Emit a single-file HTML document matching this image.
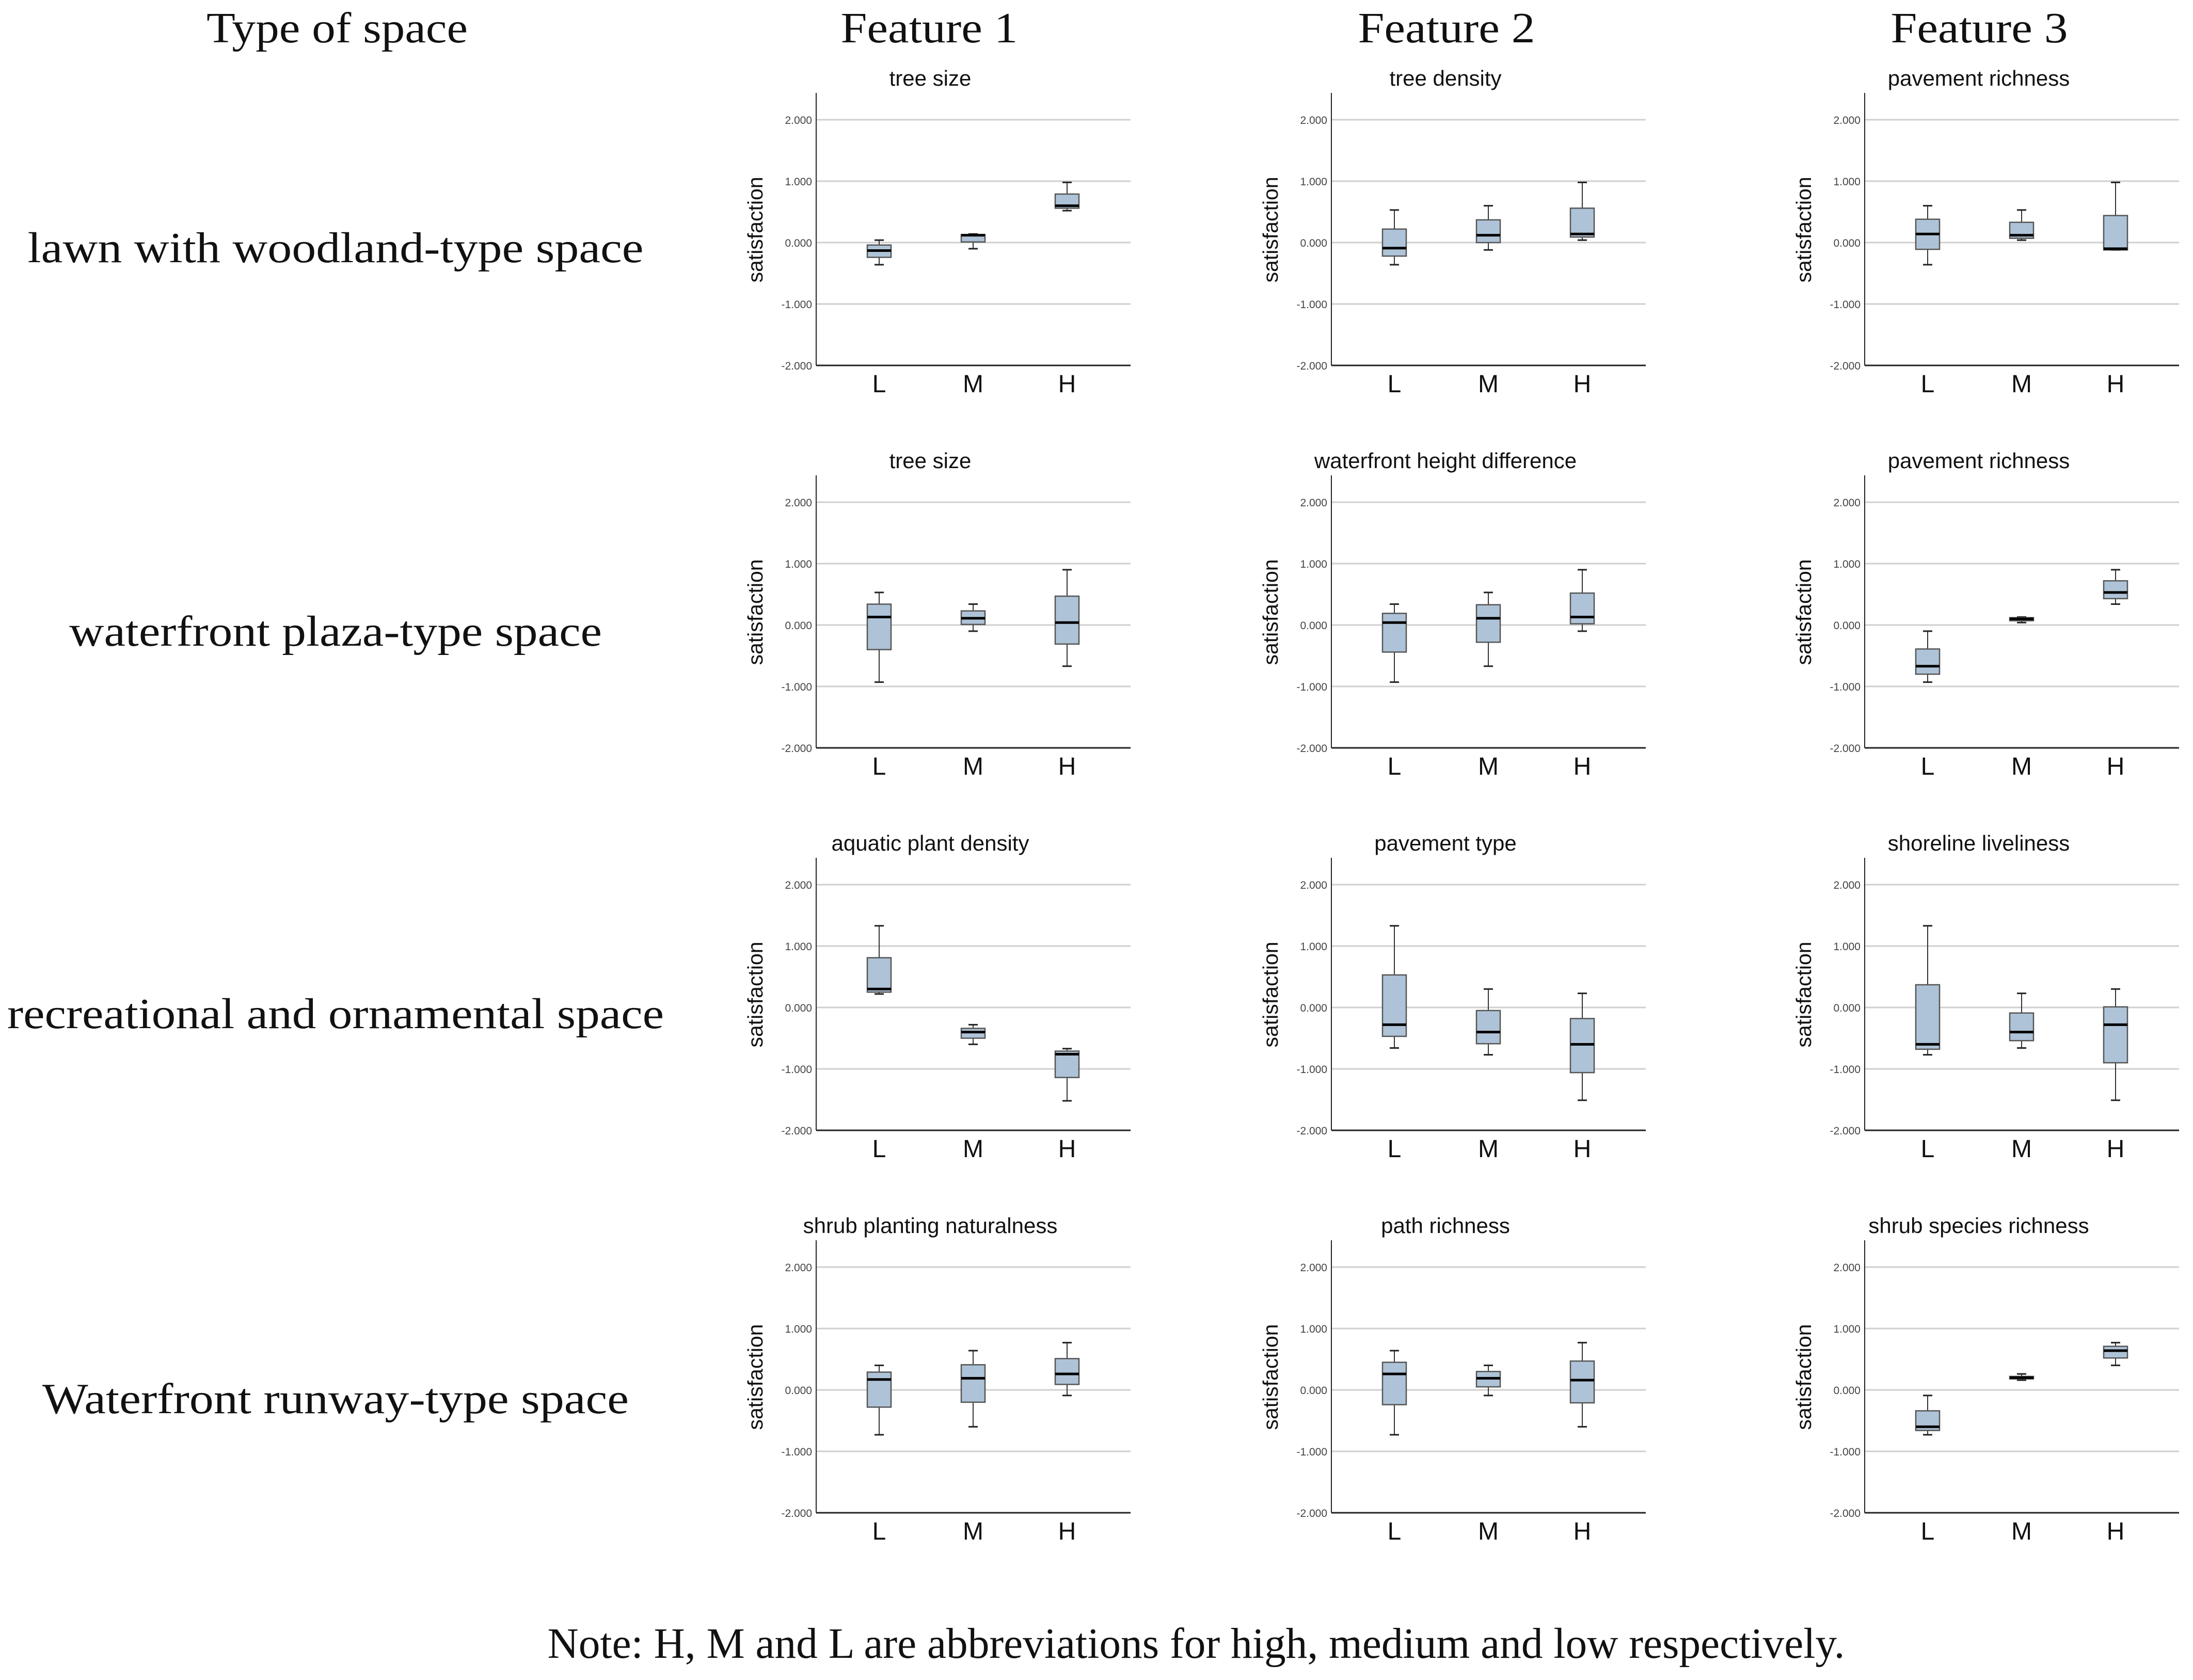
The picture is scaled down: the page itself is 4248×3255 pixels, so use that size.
<!DOCTYPE html>
<html><head><meta charset="utf-8"><style>
html,body{margin:0;padding:0;background:#fff;}
svg{display:block;}
</style></head><body>
<svg id="fig" width="4248" height="3255" viewBox="0 0 4248 3255" xmlns="http://www.w3.org/2000/svg">
<rect x="0" y="0" width="4248" height="3255" fill="#fff"/>
<g font-family="Liberation Serif, serif" font-size="84" fill="#111" text-anchor="middle">
<text x="653" y="82" textLength="506" lengthAdjust="spacingAndGlyphs">Type of space</text>
<text x="1800" y="82" textLength="343" lengthAdjust="spacingAndGlyphs">Feature 1</text>
<text x="2802" y="82" textLength="343" lengthAdjust="spacingAndGlyphs">Feature 2</text>
<text x="3834" y="82" textLength="343" lengthAdjust="spacingAndGlyphs">Feature 3</text>
<text x="650" y="508" textLength="1193" lengthAdjust="spacingAndGlyphs">lawn with woodland-type space</text>
<text x="650" y="1251" textLength="1032" lengthAdjust="spacingAndGlyphs">waterfront plaza-type space</text>
<text x="650" y="1992" textLength="1272" lengthAdjust="spacingAndGlyphs">recreational and ornamental space</text>
<text x="650" y="2738" textLength="1136" lengthAdjust="spacingAndGlyphs">Waterfront runway-type space</text>
<text x="2317" y="3212" textLength="2513" lengthAdjust="spacingAndGlyphs">Note: H, M and L are abbreviations for high, medium and low respectively.</text>
</g>
<g id="charts"></g>
</svg>
<script>
const panelTitles = ["tree size","tree density","pavement richness","tree size","waterfront height difference","pavement richness","aquatic plant density","pavement type","shoreline liveliness","shrub planting naturalness","path richness","shrub species richness"];
const categories = ["L","M","H"];
const yTicks = [2,1,0,-1,-2];
const yTickLabels = ["2.000","1.000","0.000","-1.000","-2.000"];
const whiskerHigh = [[0.04,0.14,0.98],[0.53,0.60,0.98],[0.60,0.53,0.98],[0.53,0.34,0.90],[0.34,0.53,0.90],[-0.10,0.13,0.90],[1.33,-0.28,-0.67],[1.33,0.30,0.23],[1.33,0.23,0.30],[0.40,0.64,0.77],[0.64,0.40,0.77],[-0.09,0.26,0.77]];
const q3 = [[-0.04,0.13,0.79],[0.22,0.37,0.56],[0.38,0.33,0.44],[0.34,0.23,0.47],[0.19,0.33,0.52],[-0.39,0.12,0.72],[0.81,-0.34,-0.71],[0.53,-0.05,-0.18],[0.37,-0.09,0.01],[0.29,0.41,0.51],[0.45,0.30,0.47],[-0.34,0.22,0.71]];
const median = [[-0.13,0.12,0.60],[-0.09,0.12,0.14],[0.14,0.12,-0.10],[0.13,0.11,0.04],[0.04,0.11,0.13],[-0.67,0.10,0.53],[0.30,-0.40,-0.76],[-0.28,-0.40,-0.60],[-0.60,-0.40,-0.28],[0.17,0.19,0.26],[0.26,0.19,0.16],[-0.60,0.20,0.64]];
const q1 = [[-0.24,0.01,0.56],[-0.22,0.0,0.09],[-0.11,0.07,-0.12],[-0.40,0.01,-0.31],[-0.44,-0.28,0.02],[-0.80,0.07,0.43],[0.25,-0.50,-1.14],[-0.47,-0.59,-1.06],[-0.68,-0.54,-0.90],[-0.28,-0.20,0.09],[-0.24,0.05,-0.21],[-0.66,0.18,0.52]];
const whiskerLow = [[-0.36,-0.10,0.52],[-0.36,-0.12,0.04],[-0.36,0.04,-0.12],[-0.93,-0.10,-0.67],[-0.93,-0.67,-0.10],[-0.93,0.04,0.34],[0.22,-0.60,-1.52],[-0.66,-0.77,-1.51],[-0.77,-0.66,-1.51],[-0.73,-0.60,-0.09],[-0.73,-0.09,-0.60],[-0.73,0.16,0.40]];

const NS = "http://www.w3.org/2000/svg";
const root = document.getElementById('charts');
const axisX = [1581, 2579, 3612];
const plotW = 609;
const unit = 119;
function mk(tag, attrs, parent){ const e=document.createElementNS(NS,tag); for(const k in attrs) e.setAttribute(k,attrs[k]); parent.appendChild(e); return e; }
for(let p=0;p<12;p++){
  const r=Math.floor(p/3), c=p%3;
  const ax=axisX[c], y0=470+741*r;
  const yScale = v => y0 - v*unit;
  const xScale = i => ax + 122 + i*182;
  const g=mk('g',{},root);
  
  
  const t=mk('text',{x:ax+221,y:y0-304,'font-family':'Liberation Sans, sans-serif','font-size':42,'text-anchor':'middle',fill:'#111'},g);
  t.textContent=panelTitles[p];
  
  
  yTicks.forEach((v,i)=>{
    if(v!==-2){ const gl=mk('line',{x1:ax,x2:ax+plotW,y1:yScale(v),y2:yScale(v),stroke:'#cfcfcf','stroke-width':3},g);
      
       }
    const tl=mk('text',{x:ax-8,y:yScale(v)+8,'font-family':'Liberation Sans, sans-serif','font-size':21,'text-anchor':'end',fill:'#444'},g);
    tl.textContent=yTickLabels[i];
    
    
  });
  const ya=mk('line',{x1:ax,x2:ax,y1:y0-290,y2:yScale(-2),stroke:'#222','stroke-width':2},g);
  
  
  const xa=mk('line',{x1:ax,x2:ax+plotW,y1:yScale(-2),y2:yScale(-2),stroke:'#222','stroke-width':3},g);
  
  
  const yt=mk('text',{x:0,y:0,'font-family':'Liberation Sans, sans-serif','font-size':41,'text-anchor':'middle',fill:'#111',transform:'translate('+(ax-104)+','+(y0-25)+') rotate(-90)'},g);
  yt.textContent='satisfaction';
  
  
  categories.forEach((cat,i)=>{
    const cx=xScale(i);
    const cl=mk('text',{x:cx,y:y0+290,'font-family':'Liberation Sans, sans-serif','font-size':48,'text-anchor':'middle',fill:'#111'},g);
    cl.textContent=cat;
    
    
    const b=mk('g',{},g);
    
    
    const hw=23, cw=9;
    mk('line',{x1:cx,x2:cx,y1:yScale(whiskerHigh[p][i]),y2:yScale(q3[p][i]),stroke:'#333','stroke-width':2},b);
    mk('line',{x1:cx,x2:cx,y1:yScale(q1[p][i]),y2:yScale(whiskerLow[p][i]),stroke:'#333','stroke-width':2},b);
    mk('line',{x1:cx-cw,x2:cx+cw,y1:yScale(whiskerHigh[p][i]),y2:yScale(whiskerHigh[p][i]),stroke:'#222','stroke-width':3},b);
    mk('line',{x1:cx-cw,x2:cx+cw,y1:yScale(whiskerLow[p][i]),y2:yScale(whiskerLow[p][i]),stroke:'#222','stroke-width':3},b);
    mk('rect',{x:cx-hw,y:yScale(q3[p][i]),width:2*hw,height:Math.max(1,yScale(q1[p][i])-yScale(q3[p][i])),fill:'#aec3d7',stroke:'#555','stroke-width':2.5},b);
    mk('line',{x1:cx-hw,x2:cx+hw,y1:yScale(median[p][i]),y2:yScale(median[p][i]),stroke:'#000','stroke-width':5},b);
  });
}
</script>
</body></html>
